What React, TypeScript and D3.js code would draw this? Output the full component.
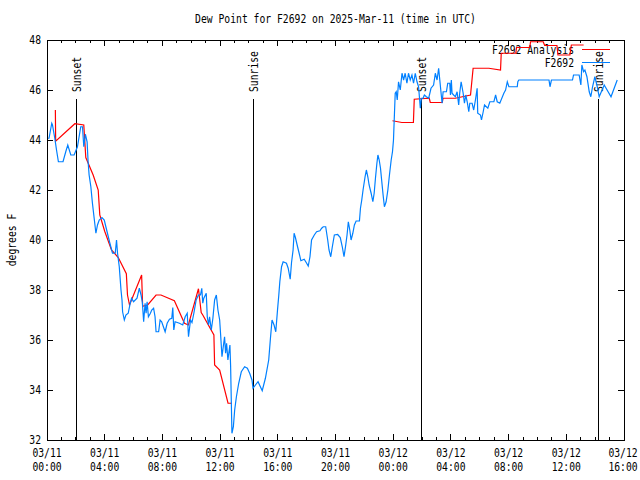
import React from "react";
import * as d3 from "d3";

// ---- data ----
const title = "Dew Point for F2692 on 2025-Mar-11 (time in UTC)";
const yLabel = "degrees F";
const startUtc = Date.UTC(2025, 2, 11, 0, 0);
const endUtc = Date.UTC(2025, 2, 12, 16, 0);
const yDomain: [number, number] = [32, 48];
const yTickValues = [32, 34, 36, 38, 40, 42, 44, 46, 48];

// [hours since 2025-03-11 00:00 UTC, dew point °F]
const obsSeries: [number, number][] = [
  [0.0,44.07],[0.14,44.07],[0.33,44.67],[0.38,44.6],[0.54,44.07],[0.66,43.6],[0.79,43.13],[1.11,43.13],[1.30,43.53],[1.44,43.8],[1.65,43.4],[1.88,43.4],[2.11,43.73],[2.34,44.53],[2.46,44.53],[2.55,43.73],[2.66,44.23],[2.78,43.93],[2.85,43.13],[2.92,42.6],[3.04,42.13],[3.15,41.47],[3.27,40.87],[3.39,40.27],[3.50,40.6],[3.62,40.8],[3.81,40.9],[3.97,40.8],[4.08,40.53],[4.19,40.27],[4.36,39.87],[4.54,39.47],[4.73,39.47],[4.82,40.0],[4.89,39.47],[5.01,38.93],[5.13,38.0],[5.20,37.6],[5.24,37.13],[5.36,36.8],[5.47,37.0],[5.63,37.07],[5.77,37.47],[5.86,37.67],[6.00,37.53],[6.24,37.67],[6.40,38.07],[6.52,37.8],[6.61,37.5],[6.70,36.73],[6.80,37.47],[6.87,37.07],[6.94,37.53],[7.03,36.93],[7.17,37.07],[7.26,37.2],[7.39,37.27],[7.49,36.93],[7.56,36.33],[7.74,36.33],[7.84,36.8],[7.95,36.73],[8.19,36.33],[8.33,36.67],[8.49,36.83],[8.65,36.87],[8.72,37.3],[8.79,36.4],[8.88,36.73],[9.18,36.67],[9.41,36.6],[9.58,36.93],[9.72,37.07],[9.81,36.13],[9.95,36.8],[10.05,36.7],[10.18,37.07],[10.34,37.6],[10.50,37.8],[10.64,37.8],[10.73,38.07],[10.80,37.47],[10.87,37.67],[11.04,37.87],[11.11,36.93],[11.20,36.6],[11.27,36.93],[11.39,36.4],[11.50,36.87],[11.62,37.6],[11.74,37.8],[11.85,37.2],[11.97,36.8],[12.03,36.27],[12.13,35.33],[12.19,35.6],[12.31,36.13],[12.38,35.47],[12.45,35.87],[12.54,35.2],[12.68,35.8],[12.73,34.93],[12.82,32.27],[12.92,32.53],[13.01,33.2],[13.13,33.73],[13.29,34.27],[13.47,34.73],[13.70,34.93],[13.89,34.87],[14.05,34.67],[14.21,34.4],[14.28,34.07],[14.45,34.2],[14.63,34.33],[14.92,33.97],[15.14,34.47],[15.37,35.2],[15.49,36.07],[15.60,36.8],[15.74,36.6],[15.86,36.33],[15.98,37.2],[16.07,37.8],[16.14,38.33],[16.26,38.93],[16.37,39.13],[16.60,39.07],[16.72,38.87],[16.86,38.43],[16.95,39.09],[17.06,39.6],[17.13,40.27],[17.22,40.1],[17.37,39.73],[17.48,39.47],[17.60,39.17],[17.83,39.23],[18.00,39.07],[18.11,38.96],[18.23,39.33],[18.34,40.0],[18.53,40.2],[18.69,40.33],[18.92,40.37],[19.04,40.47],[19.15,40.53],[19.32,40.53],[19.46,40.0],[19.55,39.6],[19.67,39.33],[19.78,39.73],[19.92,40.2],[20.15,40.22],[20.33,40.1],[20.47,39.73],[20.59,39.33],[20.71,39.8],[20.80,40.2],[20.89,40.73],[20.99,40.4],[21.08,40.0],[21.20,40.27],[21.31,40.6],[21.43,40.76],[21.66,40.76],[21.73,41.27],[21.82,41.6],[21.91,42.0],[22.05,42.53],[22.14,42.8],[22.24,42.53],[22.33,42.2],[22.47,41.87],[22.59,41.53],[22.68,41.87],[22.77,42.47],[22.87,43.07],[22.94,43.4],[23.03,43.2],[23.12,42.87],[23.21,42.33],[23.30,41.8],[23.39,41.33],[23.51,41.53],[23.63,42.0],[23.74,42.6],[23.86,43.2],[23.95,43.53],[24.02,44.0],[24.07,44.8],[24.14,45.87],[24.21,45.93],[24.28,45.6],[24.37,46.33],[24.49,46.0],[24.61,46.67],[24.72,46.4],[24.83,46.67],[24.95,46.27],[25.06,46.67],[25.18,46.4],[25.30,46.6],[25.41,46.27],[25.53,46.67],[25.65,46.33],[25.76,46.13],[25.88,45.27],[25.95,45.67],[26.07,45.67],[26.16,45.8],[26.30,45.73],[26.46,45.67],[26.62,46.07],[26.80,46.2],[26.92,46.67],[27.04,46.4],[27.15,46.87],[27.32,45.87],[27.39,45.47],[27.46,45.93],[27.69,45.93],[27.78,46.27],[27.92,46.27],[27.97,45.8],[28.03,46.4],[28.08,45.87],[28.19,45.8],[28.31,45.73],[28.43,45.93],[28.54,45.4],[28.61,45.87],[28.71,46.33],[28.85,45.87],[28.94,45.47],[29.03,45.8],[29.13,45.53],[29.24,45.13],[29.31,45.47],[29.47,45.47],[29.58,45.2],[29.70,45.6],[29.82,46.07],[29.86,45.07],[30.05,45.0],[30.12,44.8],[30.24,45.13],[30.33,45.4],[30.56,45.27],[30.70,45.53],[30.98,45.53],[31.10,45.8],[31.21,45.53],[31.39,45.47],[31.67,45.87],[31.79,46.0],[31.91,46.33],[32.02,46.13],[32.60,46.13],[32.64,46.33],[32.71,46.4],[34.80,46.4],[34.87,46.13],[34.97,46.4],[36.43,46.4],[36.50,46.6],[36.89,46.6],[37.01,46.2],[37.08,47.0],[37.20,46.73],[37.29,46.8],[37.43,46.53],[37.59,45.93],[37.70,45.73],[37.82,46.13],[37.98,46.53],[38.12,46.2],[38.28,45.73],[38.63,46.2],[39.10,45.73],[39.53,46.4]
];

const analysisSeries: [number, number | null][] = [
  [0.58,45.2],[0.60,43.95],[1.93,44.65],[2.55,44.6],[2.69,43.3],[3.2,42.6],[3.55,42.0],[3.66,41.0],[4.0,40.35],[4.47,39.6],[4.94,39.3],[5.5,38.65],[5.58,37.8],[5.72,37.4],[6.56,38.6],[6.63,37.35],[6.98,37.4],[7.56,37.8],[7.9,37.8],[8.83,37.57],[9.53,36.67],[9.8,36.6],[10.5,38.05],[10.69,37.1],[10.8,37.0],[11.57,36.2],[11.62,35.0],[11.97,34.8],[12.55,33.47],[12.82,33.47],
  [18.0,null],
  [23.95,44.77],[24.6,44.7],[25.4,44.7],[25.46,45.63],[26.5,45.67],[26.57,45.5],[27.4,45.5],[27.46,45.67],[28.3,45.67],[29.36,45.8],[29.54,46.87],[30.63,46.87],[31.44,46.8],[31.49,47.47],[32.5,47.47],[32.55,47.7],[33.47,47.7],[33.52,47.93],[34.4,47.93],[34.5,47.78],[35.35,47.78],[35.42,47.4],[36.25,47.4],[36.35,47.8],[37.2,47.8]
];

const sunEvents: { hour: number; label: string }[] = [
  { hour: 2.03, label: "Sunset" },
  { hour: 14.3, label: "Sunrise" },
  { hour: 25.93, label: "Sunset" },
  { hour: 38.22, label: "Sunrise" },
];

const seriesNames = ["F2692 Analysis", "F2692"];
const seriesColors = ["#ff0000", "#0080ff"];

// ---- layout ----
const W = 640, H = 480;
const L = 47, R = 624, T = 40, B = 440;
const FONT = "'DejaVu Sans Mono', 'Liberation Mono', monospace";
const FS = 12;
const CW = 5.85;

const toDate = (h: number) => new Date(startUtc + h * 3600e3);

function Txt(props: { x: number; y: number; s: string; anchor?: string; rot?: boolean; fill?: string }) {
  const { x, y, s, anchor = "start", rot = false } = props;
  return (
    <text
      x={0}
      y={0}
      transform={`translate(${x},${y})${rot ? " rotate(-90)" : ""}`}
      textAnchor={anchor}
      fontFamily={FONT}
      fontSize={FS}
      textLength={s.length * CW}
      lengthAdjust="spacingAndGlyphs"
      fill={props.fill || "#000"}
    >
      {s}
    </text>
  );
}

export default function App() {
  const x = d3.scaleUtc().domain([new Date(startUtc), new Date(endUtc)]).range([L, R]);
  const y = d3.scaleLinear().domain(yDomain).range([B, T]);

  const majorTicks = x.ticks(d3.utcHour.every(4)!);
  const minorTicks = x.ticks(d3.utcHour.every(1)!);
  const fDate = d3.utcFormat("%m/%d");
  const fTime = d3.utcFormat("%H:%M");

  const line = d3
    .line<[number, number | null]>()
    .defined((d) => d[1] != null)
    .x((d) => x(toDate(d[0])))
    .y((d) => y(d[1] as number));

  const obsPath = line(obsSeries as [number, number | null][]) || "";
  const anaPath = line(analysisSeries) || "";

  return (
    <svg width={W} height={H} style={{ position: "absolute", left: 0, top: 0, background: "#fff" }}>
      <rect x={0} y={0} width={W} height={H} fill="#fff" />
      {/* title */}
      <Txt x={(L + R) / 2} y={23} s={title} anchor="middle" />
      {/* y label */}
      <Txt x={16} y={240} s={yLabel} anchor="middle" rot />

      {/* ticks */}
      <g stroke="#000" strokeWidth={1} shapeRendering="crispEdges">
        {minorTicks.map((t, i) => (
          <g key={"mn" + i}>
            <line x1={x(t)} x2={x(t)} y1={B} y2={B - 3} />
            <line x1={x(t)} x2={x(t)} y1={T} y2={T + 3} />
          </g>
        ))}
        {majorTicks.map((t, i) => (
          <g key={"mj" + i}>
            <line x1={x(t)} x2={x(t)} y1={B} y2={B - 6} />
            <line x1={x(t)} x2={x(t)} y1={T} y2={T + 6} />
          </g>
        ))}
        {yTickValues.map((v) => (
          <g key={"y" + v}>
            <line x1={L} x2={L + 6} y1={y(v)} y2={y(v)} />
            <line x1={R} x2={R - 6} y1={y(v)} y2={y(v)} />
          </g>
        ))}
      </g>
      {yTickValues.map((v) => (
        <Txt key={"yl" + v} x={41} y={y(v) + 4} s={String(v)} anchor="end" />
      ))}
      {majorTicks.map((t, i) => (
        <g key={"xl" + i}>
          <Txt x={Math.min(x(t), 623)} y={457} s={fDate(t)} anchor="middle" />
          <Txt x={Math.min(x(t), 623)} y={471} s={fTime(t)} anchor="middle" />
        </g>
      ))}

      {/* sun events */}
      {sunEvents.map((e, i) => {
        const sx = Math.round(x(toDate(e.hour))) + 0.5;
        return (
          <g key={"sun" + i}>
            <line x1={sx} x2={sx} y1={99} y2={B} stroke="#000" strokeWidth={1} shapeRendering="crispEdges" />
            <Txt x={sx + 4} y={92} s={e.label} rot />
          </g>
        );
      })}

      {/* legend */}
      {seriesNames.map((n, i) => (
        <g key={"lg" + i}>
          <Txt x={574} y={54 + i * 13} s={n} anchor="end" />
          <line x1={582} x2={610} y1={49.5 + i * 13} y2={49.5 + i * 13} stroke={seriesColors[i]} strokeWidth={1} shapeRendering="crispEdges" />
        </g>
      ))}

      {/* data */}
      <path d={anaPath} fill="none" stroke={seriesColors[0]} strokeWidth={1.2} />
      <path d={obsPath} fill="none" stroke={seriesColors[1]} strokeWidth={1.2} />

      {/* border */}
      <rect x={L} y={T} width={R - L} height={B - T} fill="none" stroke="#000" strokeWidth={1} shapeRendering="crispEdges" />
    </svg>
  );
}
